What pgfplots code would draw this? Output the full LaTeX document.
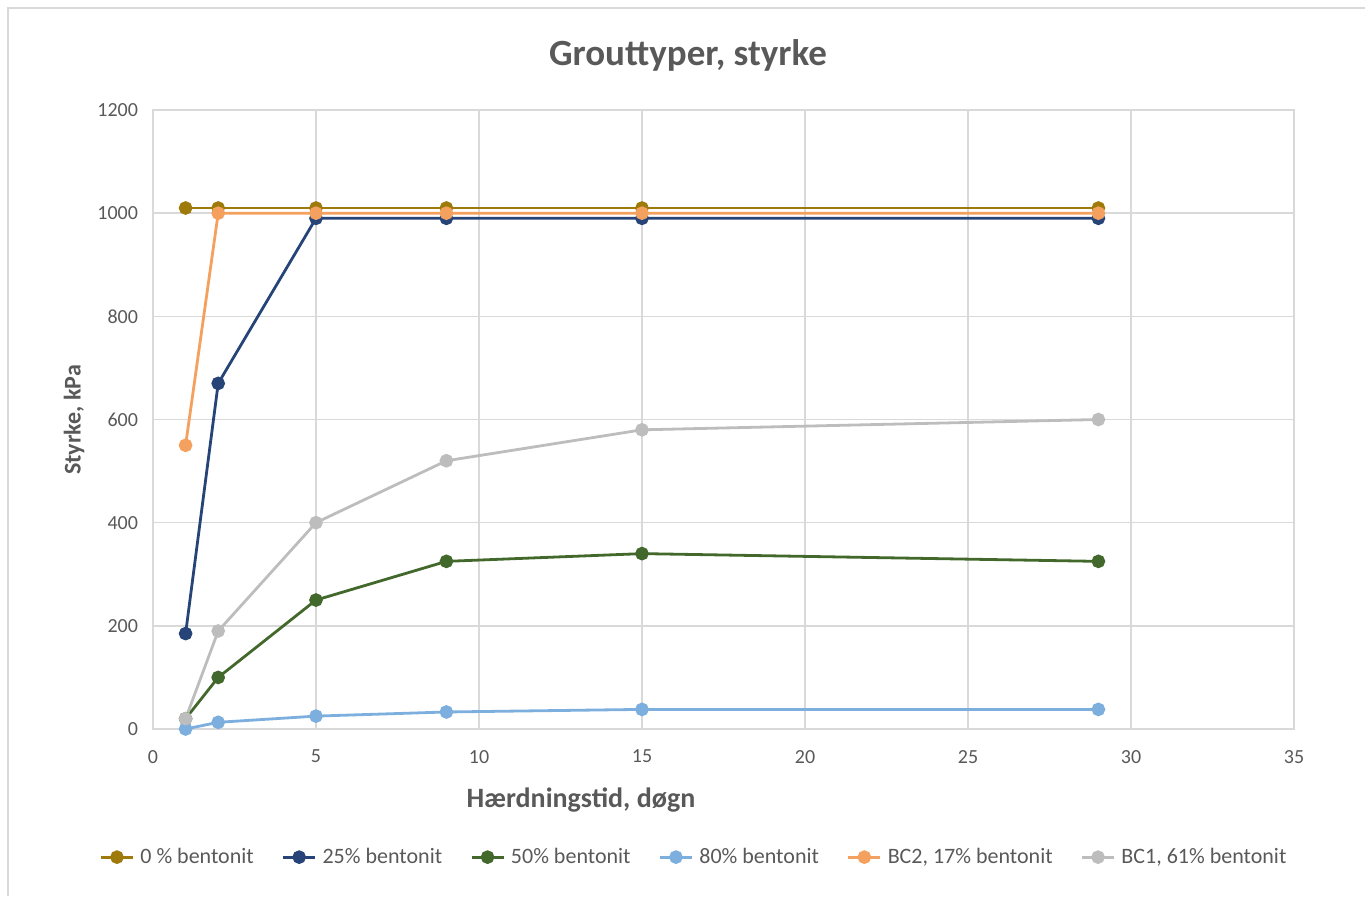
\documentclass[border=0pt]{standalone}
\usepackage{pgfplots}
\pgfplotsset{compat=1.18}
\usepackage{fontspec}
\setmainfont{Carlito}
\definecolor{txt}{HTML}{595959}
\definecolor{gridc}{HTML}{D9D9D9}
\definecolor{c0}{HTML}{9E7A0A}
\definecolor{c25}{HTML}{264478}
\definecolor{c50}{HTML}{43682B}
\definecolor{c80}{HTML}{7CAFDD}
\definecolor{cbc2}{HTML}{F4A05E}
\definecolor{cbc1}{HTML}{BDBDBD}
\begin{document}
\begin{tikzpicture}[x=1pt,y=1pt]
\path[use as bounding box] (-76.5,-83.5) rectangle (606,364.5);
\draw[gridc, line width=0.9pt] (-72.5,-83.5) -- (-72.5,360.5) -- (606,360.5);
\begin{axis}[
  at={(0,0)}, anchor=south west,
  scale only axis, width=570.5pt, height=309.5pt,
  xmin=0, xmax=35, ymin=0, ymax=1200,
  xtick={0,5,...,35}, ytick={0,200,...,1200},
  grid=major, major grid style={gridc, line width=0.75pt},
  axis line style={gridc, line width=0.75pt},
  tick style={draw=none},
  ticklabel style={font=\fontsize{10}{12}\selectfont, text=txt},
  /pgf/number format/assume math mode=true,
  /pgf/number format/1000 sep={},
  yticklabel style={xshift=-4pt},
  xticklabel style={yshift=-7pt},
  every axis plot/.append style={line width=1.4pt, mark=*, mark size=2.7pt},
  legend columns=6,
  legend style={at={(axis description cs:0.475,-0.207)}, anchor=center,
    draw=none, fill=none, font=\fontsize{11}{13}\selectfont, text=txt,
    /tikz/every even column/.append style={column sep=12pt},
    /tikz/every odd column/.append style={column sep=1pt}},
  legend image code/.code={\draw[mark repeat=2,mark phase=2]
    plot coordinates {(0pt,0pt)(8pt,0pt)(16pt,0pt)};},
]
\addplot[c0, mark options={fill=c0}] coordinates {(1,1010)(2,1010)(5,1010)(9,1010)(15,1010)(29,1010)};
\addlegendentry{0 \% bentonit}
\addplot[c25, mark options={fill=c25}] coordinates {(1,185)(2,670)(5,990)(9,990)(15,990)(29,990)};
\addlegendentry{25\% bentonit}
\addplot[c50, mark options={fill=c50}] coordinates {(1,20)(2,100)(5,250)(9,325)(15,340)(29,325)};
\addlegendentry{50\% bentonit}
\addplot[c80, mark options={fill=c80}] coordinates {(1,0)(2,13)(5,25)(9,33)(15,38)(29,38)};
\addlegendentry{80\% bentonit}
\addplot[cbc2, mark options={fill=cbc2}] coordinates {(1,550)(2,1000)(5,1000)(9,1000)(15,1000)(29,1000)};
\addlegendentry{BC2, 17\% bentonit}
\addplot[cbc1, mark options={fill=cbc1}] coordinates {(1,20)(2,190)(5,400)(9,520)(15,580)(29,600)};
\addlegendentry{BC1, 61\% bentonit}
\end{axis}
\node[font=\bfseries\fontsize{18.5}{22}\selectfont, text=txt] at (267.5,337) {Grouttyper, styrke};
\node[font=\bfseries\fontsize{14}{17}\selectfont, text=txt] at (214,-35.5) {Hærdningstid, døgn};
\node[font=\bfseries\fontsize{12}{14}\selectfont, text=txt, rotate=90] at (-39.5,154.5) {Styrke, kPa};
\end{tikzpicture}
\end{document}
